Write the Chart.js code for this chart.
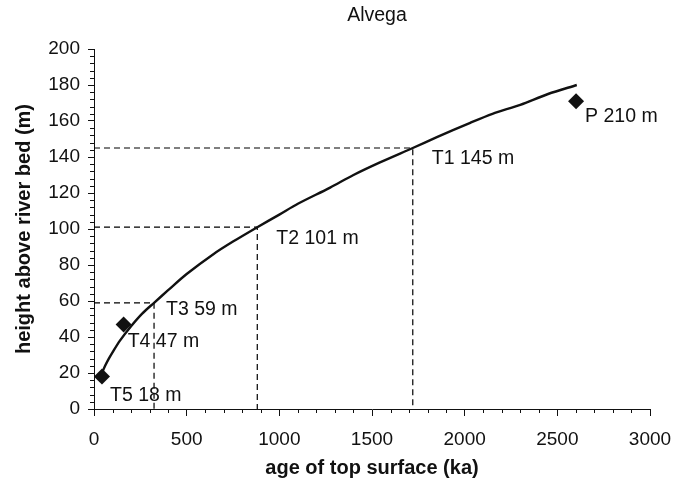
<!DOCTYPE html>
<html>
<head>
<meta charset="utf-8">
<script src="https://cdn.jsdelivr.net/npm/chart.js@4.4.1/dist/chart.umd.min.js"></script>
<style>
  html, body { margin: 0; padding: 0; background: #fff; }
  #wrap { width: 689px; height: 481px; }
</style>
</head>
<body>
<div id="wrap"><canvas id="chart" width="689" height="481"></canvas></div>
<script>
// Fitted curve (age ka, height m)
const curveAges    = [45, 60, 80, 100, 140, 200, 260, 324, 400, 500, 644, 750, 881, 1000, 1100, 1274, 1400, 1543, 1720, 1850, 2030, 2150, 2300, 2450, 2605];
const curveHeights = [20.5, 24, 28, 31.5, 38, 46, 53, 59, 66, 75, 86, 93, 101, 108, 114, 123, 130, 137, 145, 151, 159, 164, 169, 175, 180];

// Diamond markers
const markerAges    = [43, 160, 2601];
const markerHeights = [18, 47, 171];

// Dashed guide lines (terraces read on the curve)
const guideAges    = [324, 881, 1720];
const guideHeights = [59, 101, 145];

// Text labels and the point each one sits next to
const labelTexts   = ['T5 18 m', 'T4 47 m', 'T3 59 m', 'T2 101 m', 'T1 145 m', 'P 210 m'];
const labelAges    = [43, 160, 324, 881, 1720, 2601];
const labelHeights = [18, 47, 59, 101, 145, 171];

const xTicks = [0, 500, 1000, 1500, 2000, 2500, 3000];
const yTicks = [0, 20, 40, 60, 80, 100, 120, 140, 160, 180, 200];

const FONT = '"Liberation Sans", Arial, sans-serif';
const INK = '#111';

const guideSets = guideAges.map((a, i) => ({
  data: [{ x: 0, y: guideHeights[i] }, { x: a, y: guideHeights[i] }, { x: a, y: 0 }],
  showLine: true,
  borderColor: '#000',
  borderWidth: 1.2,
  borderDash: [6, 4],
  pointRadius: 0,
  order: 3
}));

// minor ticks, title and point labels
const extras = {
  id: 'extras',
  afterDraw(chart) {
    const { ctx, chartArea: a, scales: { x, y } } = chart;
    ctx.save();
    ctx.strokeStyle = INK;
    ctx.lineWidth = 1;
    ctx.beginPath();
    for (let v = 100; v < 3000; v += 100) {
      if (v % 500 === 0) continue;
      const px = Math.round(x.getPixelForValue(v)) + 0.5;
      ctx.moveTo(px, a.bottom);
      ctx.lineTo(px, a.bottom + 4);
    }
    for (let v = 4; v < 200; v += 4) {
      if (v % 20 === 0) continue;
      const py = Math.round(y.getPixelForValue(v)) + 0.5;
      ctx.moveTo(a.left - 4, py);
      ctx.lineTo(a.left, py);
    }
    ctx.stroke();

    ctx.fillStyle = INK;
    ctx.font = '19.5px ' + FONT;
    ctx.textAlign = 'center';
    ctx.textBaseline = 'middle';
    ctx.fillText('Alvega', (a.left + a.right) / 2 + 5, 15.5);

    const offsets = [[8, 19], [4, 17], [12, 7], [19, 11], [19, 11], [9, 15]];
    ctx.font = '19.5px ' + FONT;
    ctx.textAlign = 'left';
    labelTexts.forEach((t, i) => {
      const px = x.getPixelForValue(labelAges[i]) + offsets[i][0];
      const py = y.getPixelForValue(labelHeights[i]) + offsets[i][1];
      ctx.fillText(t, px, py);
    });
    ctx.restore();
  }
};

new Chart(document.getElementById('chart'), {
  type: 'scatter',
  data: {
    datasets: [
      {
        label: 'markers',
        data: markerAges.map((a, i) => ({ x: a, y: markerHeights[i] })),
        pointStyle: 'rectRot',
        pointRadius: 8,
        backgroundColor: INK,
        borderColor: INK,
        borderWidth: 0,
        order: 1
      },
      {
        label: 'curve',
        data: curveAges.map((a, i) => ({ x: a, y: curveHeights[i] })),
        showLine: true,
        borderColor: INK,
        borderWidth: 2.4,
        pointRadius: 0,
        tension: 0.3,
        order: 2
      },
      ...guideSets
    ]
  },
  options: {
    responsive: false,
    animation: false,
    layout: { padding: { top: 49, right: 39, left: 0, bottom: 0 } },
    plugins: {
      legend: { display: false },
      tooltip: { enabled: false }
    },
    scales: {
      x: {
        type: 'linear',
        min: 0,
        max: 3000,
        afterBuildTicks: (s) => { s.ticks = xTicks.map(v => ({ value: v })); },
        afterFit: (s) => { s.height = 72; },
        grid: { drawOnChartArea: false, color: INK, tickLength: 7, tickWidth: 1 },
        border: { color: INK, width: 1 },
        ticks: {
          color: INK, font: { family: FONT, size: 19 }, padding: 12, maxRotation: 0,
          callback: (v) => String(v)
        },
        title: {
          display: true,
          text: 'age of top surface (ka)',
          color: INK,
          font: { family: FONT, size: 20, weight: 'bold' },
          padding: { top: 0, bottom: 1 }
        }
      },
      y: {
        type: 'linear',
        min: 0,
        max: 200,
        afterBuildTicks: (s) => { s.ticks = yTicks.map(v => ({ value: v })); },
        afterFit: (s) => { s.width = 94; },
        grid: { drawOnChartArea: false, color: INK, tickLength: 6, tickWidth: 1 },
        border: { color: INK, width: 1 },
        ticks: {
          color: INK, font: { family: FONT, size: 19 }, padding: 8,
          callback: (v) => String(v)
        },
        title: {
          display: true,
          text: 'height above river bed (m)',
          color: INK,
          font: { family: FONT, size: 20, weight: 'bold' },
          padding: { top: 12, bottom: 0 }
        }
      }
    }
  },
  plugins: [extras]
});
</script>
</body>
</html>
